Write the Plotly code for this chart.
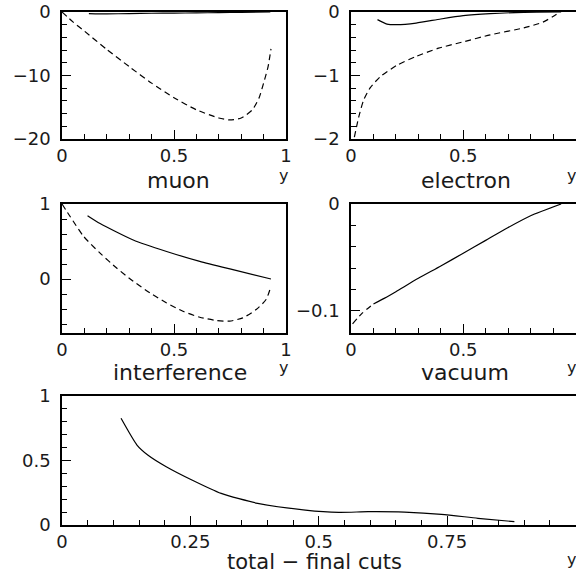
import plotly.graph_objects as go

# ---------------- data ----------------
muon_solid_x = [0.12, 0.20, 0.30, 0.40, 0.50, 0.60, 0.70, 0.80, 0.93]
muon_solid_y = [-0.25, -0.30, -0.25, -0.20, -0.18, -0.14, -0.10, -0.05, 0.0]
muon_dash_x = [0.0, 0.05, 0.10, 0.20, 0.30, 0.40, 0.50, 0.60, 0.70, 0.75, 0.80, 0.85, 0.88, 0.90, 0.92, 0.933]
muon_dash_y = [0.0, -1.6, -3.0, -5.9, -8.6, -11.2, -13.5, -15.4, -16.7, -17.0, -16.7, -15.4, -13.5, -11.2, -8.6, -5.8]

elec_solid_x = [0.118, 0.16, 0.204, 0.29, 0.40, 0.50, 0.62, 0.77, 0.936]
elec_solid_y = [-0.12, -0.19, -0.20, -0.175, -0.11, -0.058, -0.026, -0.005, 0.0]
elec_dash_x = [0.015, 0.034, 0.056, 0.086, 0.13, 0.204, 0.29, 0.39, 0.50, 0.62, 0.77, 0.855, 0.914, 0.93]
elec_dash_y = [-1.97, -1.66, -1.39, -1.19, -1.02, -0.84, -0.70, -0.57, -0.47, -0.36, -0.25, -0.16, -0.04, 0.0]

intf_solid_x = [0.114, 0.17, 0.318, 0.467, 0.615, 0.763, 0.933]
intf_solid_y = [0.845, 0.74, 0.52, 0.367, 0.235, 0.124, 0.0]
intf_dash_x = [0.0, 0.037, 0.096, 0.17, 0.244, 0.318, 0.393, 0.467, 0.54, 0.615, 0.69, 0.748, 0.807, 0.867, 0.911, 0.933]
intf_dash_y = [1.0, 0.83, 0.57, 0.345, 0.146, -0.03, -0.186, -0.319, -0.43, -0.51, -0.553, -0.562, -0.518, -0.407, -0.274, -0.097]

vac_solid_x = [0.10, 0.15, 0.20, 0.30, 0.40, 0.50, 0.60, 0.70, 0.80, 0.936]
vac_solid_y = [-0.0935, -0.088, -0.082, -0.0695, -0.058, -0.046, -0.034, -0.022, -0.011, 0.0]
vac_dash_x = [0.007, 0.05, 0.10]
vac_dash_y = [-0.112, -0.102, -0.0935]

tot_x = [0.115, 0.146, 0.167, 0.203, 0.253, 0.31, 0.381, 0.474, 0.539, 0.596, 0.667, 0.739, 0.81, 0.881]
tot_y = [0.827, 0.62, 0.543, 0.452, 0.349, 0.245, 0.168, 0.116, 0.098, 0.103, 0.10, 0.083, 0.052, 0.026]

panel_titles = ["muon", "electron", "interference", "vacuum", "total \u2212 final cuts"]

# ---------------- layout helpers ----------------
W, H = 576, 574
FONT = "DejaVu Sans"
TXT = "#1a1a1a"

def px_x(p):
    return p / W

def px_y(p):
    return 1 - p / H

fig = go.Figure()

def add_line(x, y, axis_idx, dash):
    fig.add_trace(go.Scatter(
        x=x, y=y, mode="lines",
        line=dict(color="black", width=1.2, dash=dash, shape="spline", smoothing=0.6),
        xaxis="x" if axis_idx == 1 else f"x{axis_idx}",
        yaxis="y" if axis_idx == 1 else f"y{axis_idx}",
        showlegend=False, hoverinfo="skip",
    ))

DASH = "6px,4px"
add_line(muon_solid_x, muon_solid_y, 1, "solid")
add_line(muon_dash_x, muon_dash_y, 1, DASH)
add_line(elec_solid_x, elec_solid_y, 2, "solid")
add_line(elec_dash_x, elec_dash_y, 2, DASH)
add_line(intf_solid_x, intf_solid_y, 3, "solid")
add_line(intf_dash_x, intf_dash_y, 3, DASH)
add_line(vac_solid_x, vac_solid_y, 4, "solid")
add_line(vac_dash_x, vac_dash_y, 4, DASH)
add_line(tot_x, tot_y, 5, "solid")

# pixel boxes: (x0, x1, y_top, y_bottom)
boxes = {
    1: (62, 286, 12, 139),
    2: (351, 575.5, 12, 139),
    3: (62, 286, 204, 333),
    4: (351, 575.5, 204, 333),
    5: (62, 575.5, 396, 525),
}

yranges = {1: [-20, 0], 2: [-2, 0], 3: [-0.72, 1], 4: [-0.1206, 0], 5: [0, 1]}
yticks = {1: [0, -10, -20], 2: [0, -1, -2], 3: [1, 0], 4: [0, -0.1], 5: [0, 0.5, 1]}
yticktext = {
    1: ["0", "\u221210", "\u221220"],
    2: ["0", "\u22121", "\u22122"],
    3: ["1", "0"],
    4: ["0", "\u22120.1"],
    5: ["0", "0.5", "1"],
}
yminor = {1: 2, 2: 0.2, 3: 0.2, 4: 0.02, 5: 0.1}
xticks = {i: [0, 0.5, 1] for i in range(1, 5)}
xticks[5] = [0, 0.25, 0.5, 0.75, 1]
xticktext = {i: ["0", "0.5", "1"] for i in range(1, 5)}
xticktext[5] = ["0", "0.25", "0.5", "0.75", "1"]
xminor = {1: 0.1, 2: 0.1, 3: 0.1, 4: 0.1, 5: 0.05}

tickfont = dict(family=FONT, size=18, color=TXT)

layout = dict(
    width=W, height=H,
    margin=dict(l=0, r=0, t=0, b=0, autoexpand=False),
    paper_bgcolor="white", plot_bgcolor="white",
    showlegend=False,
)

for i, (x0, x1, yt, yb) in boxes.items():
    xname = "xaxis" if i == 1 else f"xaxis{i}"
    yname = "yaxis" if i == 1 else f"yaxis{i}"
    xa = "x" if i == 1 else f"x{i}"
    ya = "y" if i == 1 else f"y{i}"
    layout[xname] = dict(
        domain=[px_x(x0), px_x(x1)], anchor=ya, range=[0, 1],
        automargin=False,
        showline=True, mirror=True, linecolor="black", linewidth=1.5,
        showgrid=False, zeroline=False,
        ticks="inside", ticklen=9, tickwidth=1, tickcolor="black",
        tickvals=xticks[i], ticktext=xticktext[i], tickfont=tickfont,
        ticklabelstandoff=0,
        minor=dict(dtick=xminor[i], tick0=0, ticks="inside", ticklen=5,
                   tickwidth=1, tickcolor="black", showgrid=False),
        fixedrange=True,
    )
    layout[yname] = dict(
        domain=[px_y(yb), px_y(yt)], anchor=xa, range=yranges[i],
        automargin=False,
        showline=True, mirror=True, linecolor="black", linewidth=1.5,
        showgrid=False, zeroline=False,
        ticks="inside", ticklen=9, tickwidth=1, tickcolor="black",
        tickvals=yticks[i], ticktext=yticktext[i], tickfont=tickfont,
        ticklabelstandoff=6,
        minor=dict(dtick=yminor[i], tick0=0, ticks="inside", ticklen=5,
                   tickwidth=1, tickcolor="black", showgrid=False),
        fixedrange=True,
    )

fig.update_layout(**layout)

# titles and 'y' labels
title_pos = [(178, 180), (466, 180), (180, 372), (465, 372), (314, 562)]
title_size = [22, 22, 22, 22, 21]
ylab_pos = [(283, 176), (571, 176), (283, 367), (571, 367), (571, 559)]
for t, (cx, cy), fs in zip(panel_titles, title_pos, title_size):
    fig.add_annotation(text=t, x=px_x(cx), y=px_y(cy), xref="paper", yref="paper",
                       xanchor="center", yanchor="middle", showarrow=False,
                       font=dict(family=FONT, size=fs, color=TXT))
for (cx, cy) in ylab_pos:
    fig.add_annotation(text="y", x=px_x(cx), y=px_y(cy), xref="paper", yref="paper",
                       xanchor="center", yanchor="middle", showarrow=False,
                       font=dict(family=FONT, size=16, color=TXT))

fig.write_html("out.html", config={"displayModeBar": False},
               post_script="document.body.style.margin='0px';")
